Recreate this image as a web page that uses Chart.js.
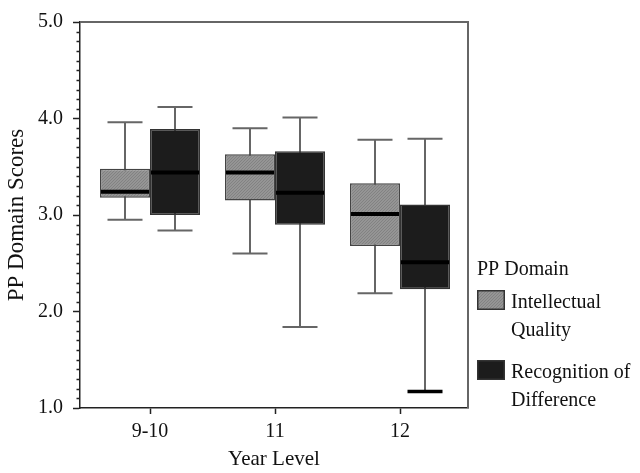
<!DOCTYPE html>
<html>
<head>
<meta charset="utf-8">
<script src="https://cdn.jsdelivr.net/npm/chart.js@4/dist/chart.umd.min.js"></script>
<style>
    html, body { margin: 0; padding: 0; background: #fff; }
    #wrap { width: 640px; height: 473px; position: relative; }
</style>
</head>
<body>
<div id="wrap"><canvas id="boxChart"></canvas></div>
<script>
// ============================================
// DATA
// ============================================
const yearLevels = ['9-10', '11', '12']
const domains = ['Intellectual Quality', 'Recognition of Difference']

// Intellectual Quality: whisker low, Q1, median, Q3, whisker high
const iqMin    = [2.95, 2.60, 2.19]
const iqQ1     = [3.18, 3.15, 2.68]
const iqMedian = [3.24, 3.44, 3.01]
const iqQ3     = [3.48, 3.63, 3.33]
const iqMax    = [3.96, 3.90, 3.78]

// Recognition of Difference
const rdMin    = [2.84, 1.84, 1.17]
const rdQ1     = [3.00, 2.90, 2.23]
const rdMedian = [3.44, 3.23, 2.51]
const rdQ3     = [3.89, 3.66, 3.11]
const rdMax    = [4.12, 4.01, 3.79]

const yTicks = [1.0, 2.0, 3.0, 4.0, 5.0]

const stats = [
    { min: iqMin, med: iqMedian, max: iqMax },
    { min: rdMin, med: rdMedian, max: rdMax }
]

const FONT = 'Liberation Serif'
const heavyCaps = [{ dataset: 1, index: 2 }]   // extreme cap drawn thick

// ============================================
// HATCH FILL
// ============================================
function hatch() {
    const c = document.createElement('canvas')
    c.width = 3; c.height = 3
    const g = c.getContext('2d')
    g.fillStyle = '#959595'
    g.fillRect(0, 0, 3, 3)
    g.fillStyle = '#828282'
    g.fillRect(2, 0, 1, 1)
    g.fillRect(1, 1, 1, 1)
    g.fillRect(0, 2, 1, 1)
    return g.createPattern(c, 'repeat')
}
const iqFill = hatch()

// ============================================
// BOX PARTS (whiskers, medians, frame, legend)
// ============================================
const boxParts = {
    id: 'boxParts',
    beforeDatasetsDraw(chart) {
        const ctx = chart.ctx
        const y = chart.scales.y
        ctx.save()
        chart.data.datasets.forEach((ds, di) => {
            const s = stats[di]
            chart.getDatasetMeta(di).data.forEach((bar, i) => {
                const top = y.getPixelForValue(s.max[i])
                const bot = y.getPixelForValue(s.min[i])
                const half = bar.width * 0.35
                ctx.strokeStyle = '#666'
                ctx.lineWidth = 2
                ctx.beginPath()
                ctx.moveTo(bar.x, top); ctx.lineTo(bar.x, bot)
                ctx.moveTo(bar.x - half, top); ctx.lineTo(bar.x + half, top)
                ctx.stroke()
                const heavy = heavyCaps.some(h => h.dataset === di && h.index === i)
                ctx.strokeStyle = heavy ? '#000' : '#666'
                ctx.lineWidth = heavy ? 3.5 : 2
                ctx.beginPath()
                ctx.moveTo(bar.x - half, bot); ctx.lineTo(bar.x + half, bot)
                ctx.stroke()
            })
        })
        ctx.restore()
    },
    afterDatasetsDraw(chart) {
        const ctx = chart.ctx
        const y = chart.scales.y
        const area = chart.chartArea
        ctx.save()
        chart.data.datasets.forEach((ds, di) => {
            chart.getDatasetMeta(di).data.forEach((bar, i) => {
                const py = y.getPixelForValue(stats[di].med[i])
                ctx.strokeStyle = '#000'
                ctx.lineWidth = 4
                ctx.beginPath()
                ctx.moveTo(bar.x - bar.width / 2 + 1, py)
                ctx.lineTo(bar.x + bar.width / 2 - 1, py)
                ctx.stroke()
            })
        })

        // top + right frame
        ctx.strokeStyle = '#666'
        ctx.lineWidth = 2
        ctx.beginPath()
        ctx.moveTo(area.left, area.top)
        ctx.lineTo(area.right, area.top)
        ctx.lineTo(area.right, area.bottom)
        ctx.stroke()

        // minor ticks every 0.1
        ctx.strokeStyle = '#222'
        ctx.lineWidth = 1.5
        ctx.beginPath()
        for (let k = 10; k <= 50; k++) {
            if (k % 10 === 0) continue
            const py = Math.round(y.getPixelForValue(k / 10)) + 0.5
            ctx.moveTo(area.left - 3.5, py)
            ctx.lineTo(area.left, py)
        }
        ctx.stroke()
        ctx.restore()
    },
    afterDraw(chart) {
        const ctx = chart.ctx
        const x0 = chart.chartArea.right
        ctx.save()
        ctx.font = `20px "${FONT}"`
        ctx.fillStyle = '#111'
        ctx.textBaseline = 'alphabetic'
        ctx.fillText('PP Domain', x0 + 9, 275)

        const fills = [iqFill, '#1c1c1c']
        const rows = [290, 360]
        chart.data.datasets.forEach((ds, di) => {
            const by = rows[di]
            ctx.fillStyle = fills[di]
            ctx.fillRect(x0 + 9, by, 28, 20)
            ctx.strokeStyle = '#333'
            ctx.lineWidth = 1.5
            ctx.strokeRect(x0 + 9.75, by + 0.75, 26.5, 18.5)

            // wrap label into lines
            const words = ds.label.split(' ')
            const lines = []
            let cur = ''
            words.forEach(w => {
                const t = cur ? cur + ' ' + w : w
                if (ctx.measureText(t).width > 128 && cur) { lines.push(cur); cur = w }
                else cur = t
            })
            lines.push(cur)
            ctx.fillStyle = '#111'
            lines.forEach((ln, li) => ctx.fillText(ln, x0 + 43, by + 18 + li * 28))
        })
        ctx.restore()
    }
}

// ============================================
// CHART
// ============================================
const chart = new Chart(document.getElementById('boxChart'), {
    type: 'bar',
    data: {
        datasets: [
            {
                label: domains[0],
                data: yearLevels.map((_, i) => ({ x: i + 1, y: [iqQ1[i], iqQ3[i]] })),
                backgroundColor: iqFill,
                borderColor: '#444',
                borderWidth: 1.5,
                borderSkipped: false,
                barPercentage: 1,
                categoryPercentage: 0.8
            },
            {
                label: domains[1],
                data: yearLevels.map((_, i) => ({ x: i + 1, y: [rdQ1[i], rdQ3[i]] })),
                backgroundColor: '#1c1c1c',
                borderColor: '#333',
                borderWidth: 1.5,
                borderSkipped: false,
                barPercentage: 1,
                categoryPercentage: 0.8
            }
        ]
    },
    options: {
        responsive: true,
        maintainAspectRatio: false,
        animation: false,
        layout: { padding: { left: 0, right: 172, top: 15, bottom: 0 } },
        plugins: {
            legend: { display: false },
            tooltip: { enabled: false }
        },
        scales: {
            x: {
                type: 'linear',
                offset: false,
                min: 0.44,
                max: 3.544,
                afterBuildTicks: (s) => { s.ticks = yearLevels.map((_, i) => ({ value: i + 1 })) },
                afterFit: (s) => { s.height = 65 },
                grid: { offset: false, drawOnChartArea: false, tickLength: 6, color: '#222', tickWidth: 1.5 },
                border: { color: '#222', width: 1.5 },
                ticks: {
                    padding: 6,
                    color: '#111',
                    font: { family: FONT, size: 20 },
                    callback: (v) => yearLevels[v - 1]
                },
                title: {
                    display: true,
                    text: 'Year Level',
                    color: '#111',
                    font: { family: FONT, size: 21 },
                    padding: { top: 0, bottom: 1 }
                }
            },
            y: {
                min: 1,
                max: 5,
                afterBuildTicks: (s) => { s.ticks = yTicks.map(v => ({ value: v })) },
                afterFit: (s) => { s.width = 80 },
                grid: { drawOnChartArea: false, tickLength: 7, color: '#222', tickWidth: 1.5 },
                border: { color: '#222', width: 1.5 },
                ticks: {
                    padding: 10,
                    color: '#111',
                    font: { family: FONT, size: 20 },
                    callback: (v) => v.toFixed(1)
                },
                title: {
                    display: true,
                    text: 'PP Domain Scores',
                    color: '#111',
                    font: { family: FONT, size: 23 },
                    padding: { top: 3, bottom: 0 }
                }
            }
        }
    },
    plugins: [boxParts]
})
</script>
</body>
</html>
